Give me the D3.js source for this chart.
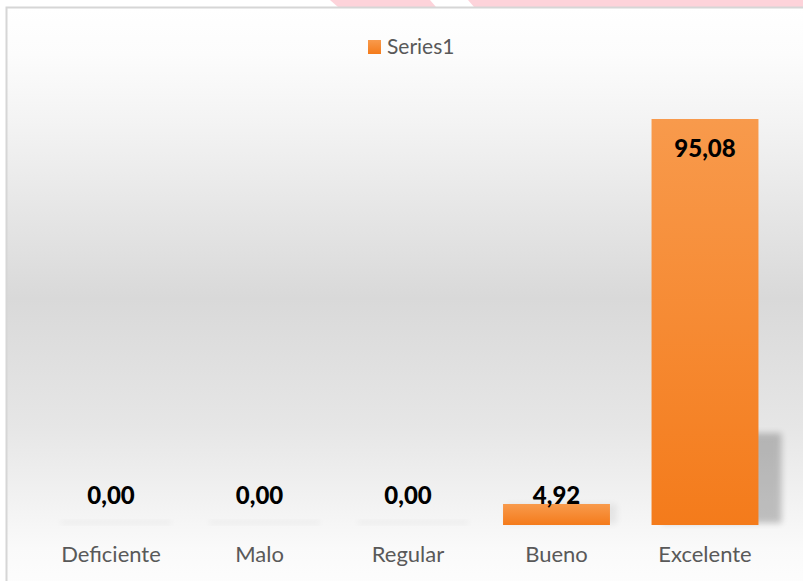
<!DOCTYPE html>
<html>
<head>
<meta charset="utf-8">
<script src="https://cdn.jsdelivr.net/npm/d3@7/dist/d3.min.js"></script>
<style>
  html, body { margin: 0; padding: 0; background: #ffffff; }
  svg { display: block; }
</style>
</head>
<body>
<script>
// Rating categories and the share of answers in each (percent)
const categories = ["Deficiente", "Malo", "Regular", "Bueno", "Excelente"];
const values = [0.00, 0.00, 0.00, 4.92, 95.08];
const seriesName = "Series1";

const W = 803, H = 581;
const FONT = "Lato, 'Open Sans', sans-serif";
const fmt = v => d3.format(".2f")(v).replace(".", ",");

const svg = d3.select("body").append("svg")
  .attr("width", W).attr("height", H);

const defs = svg.append("defs");

// chart area background: white at top, soft grey band through the middle
const bg = defs.append("linearGradient").attr("id", "bgGrad")
  .attr("x1", 0).attr("y1", 0).attr("x2", 0).attr("y2", 1);
[[0, "#ffffff"], [0.08, "#fcfcfc"], [0.2, "#f3f3f3"], [0.5, "#d9d9d9"],
 [0.72, "#e6e6e6"], [0.86, "#f3f3f3"], [0.93, "#fafafa"], [1, "#fdfdfd"]]
  .forEach(([o, c]) => bg.append("stop").attr("offset", o).attr("stop-color", c));

// bar fill: lighter orange at the top, deeper orange at the base
const barGrad = defs.append("linearGradient").attr("id", "barGrad")
  .attr("x1", 0).attr("y1", 0).attr("x2", 0).attr("y2", 1);
barGrad.append("stop").attr("offset", 0).attr("stop-color", "#f89a4c");
barGrad.append("stop").attr("offset", 1).attr("stop-color", "#f47b1b");

const blur = defs.append("filter").attr("id", "shadowBlur")
  .attr("x", "-50%").attr("y", "-50%").attr("width", "200%").attr("height", "200%");
blur.append("feGaussianBlur").attr("stdDeviation", 3);

// decorative pink strip above the frame
const strip = svg.append("g");
strip.append("polygon").attr("points", "330,0 430,0 436,7 338,7").attr("fill", "#fdd3da");
strip.append("polygon").attr("points", "468,0 803,0 803,7 474,7").attr("fill", "#fdd3da");

// frame and background
svg.append("rect").attr("x", 7).attr("y", 8).attr("width", W).attr("height", H)
  .attr("fill", "url(#bgGrad)");
svg.append("path").attr("d", `M6.5,${H} V7.5 H${W}`)
  .attr("fill", "none").attr("stroke", "#d6d6d6").attr("stroke-width", 2);

// scales
const x = d3.scaleBand().domain(categories).range([36.75, 779.25]).padding(0);
const y = d3.scaleLinear().domain([0, 100]).range([525, 98]);
const barW = x.bandwidth() * 0.72;

const data = categories.map((c, i) => ({ cat: c, v: values[i] }));

// soft shadows under and beside each bar
svg.append("g").selectAll("rect").data(data).join("rect")
  .attr("x", d => d.v > 50 ? x(d.cat) + (x.bandwidth() - barW) / 2 + 10
                          : x(d.cat) + (x.bandwidth() - barW) / 2 + 3)
  .attr("width", d => d.v > 50 ? barW + 13 : barW + 4)
  .attr("y", d => d.v > 50 ? y(0) - 92 : Math.min(y(d.v), y(0) - 4))
  .attr("height", d => d.v > 50 ? 90 : Math.max(y(0) - y(d.v) - 1, 3))
  .attr("fill", "#000")
  .attr("opacity", d => d.v > 50 ? 0.22 : 0.06)
  .attr("filter", "url(#shadowBlur)");

// bars
svg.append("g").selectAll("rect").data(data.filter(d => d.v > 0)).join("rect")
  .attr("x", d => x(d.cat) + (x.bandwidth() - barW) / 2)
  .attr("width", barW)
  .attr("y", d => y(d.v))
  .attr("height", d => y(0) - y(d.v))
  .attr("fill", "url(#barGrad)");

// value labels: inside the top of tall bars, above the base otherwise
svg.append("g").selectAll("text").data(data).join("text")
  .attr("x", d => x(d.cat) + x.bandwidth() / 2)
  .attr("y", d => (y(0) - y(d.v) > 60) ? y(d.v) + 38 : y(0) - 21)
  .attr("text-anchor", "middle")
  .attr("font-family", FONT).attr("font-weight", 900)
  .attr("font-size", 24).attr("fill", "#000")
  .text(d => fmt(d.v));

// category axis labels
const xAxis = d3.axisBottom(x).tickSize(0).tickPadding(0);
const gx = svg.append("g").attr("transform", `translate(0,${y(0) + 21})`).call(xAxis);
gx.select(".domain").remove();
gx.selectAll("text")
  .attr("font-family", FONT).attr("font-size", 22).attr("fill", "#595959")
  .attr("dy", "0.71em");

// legend
const lg = svg.append("g").attr("transform", "translate(368,40)");
lg.append("rect").attr("width", 13).attr("height", 14).attr("fill", "url(#barGrad)");
lg.append("text").attr("x", 19).attr("y", 14)
  .attr("font-family", FONT).attr("font-size", 21).attr("fill", "#595959")
  .text(seriesName);
</script>
</body>
</html>
